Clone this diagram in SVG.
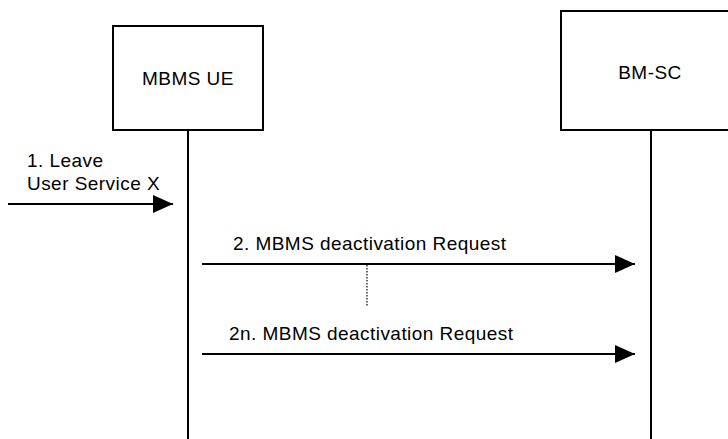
<svg xmlns="http://www.w3.org/2000/svg" width="728" height="439" viewBox="0 0 728 439">
<style>
.box{fill:#fff;stroke:#000;stroke-width:2}
.life{stroke:#000;stroke-width:2;fill:none}
.msg{stroke:#000;stroke-width:2;fill:none;marker-end:url(#ah)}
.dot{stroke:#000;stroke-width:1.2;stroke-dasharray:1.5 1.5;fill:none}
text{font-family:"Liberation Sans",Arial,sans-serif;font-size:19px;letter-spacing:0.45px;fill:#000}
</style>
<defs>
<marker id="ah" markerUnits="userSpaceOnUse" markerWidth="20" markerHeight="18" refX="20" refY="9" orient="auto">
<polygon points="0,0 20,9 0,18" fill="#000"/>
</marker>
</defs>
<rect width="728" height="439" fill="#fff"/>
<g id="connectors">
<line class="life" x1="188" y1="130" x2="188" y2="439"/>
<line class="life" x1="651" y1="130" x2="651" y2="439"/>
<line class="msg" x1="8" y1="204" x2="173" y2="204"/>
<line class="msg" x1="202" y1="264" x2="635" y2="264"/>
<line class="dot" x1="367" y1="265" x2="367" y2="306"/>
<line class="msg" x1="202" y1="354" x2="635" y2="354"/>
</g>
<g id="node-ue">
<rect class="box" x="113" y="26" width="150" height="104"/>
<text x="188" y="85" text-anchor="middle">MBMS UE</text>
</g>
<g id="node-bmsc">
<rect class="box" x="561" y="11" width="180" height="119"/>
<text x="650" y="79" text-anchor="middle">BM-SC</text>
</g>
<g id="labels">
<text x="27" y="167">1. Leave</text>
<text x="27" y="190">User Service X</text>
<text x="233" y="250">2. MBMS deactivation Request</text>
<text x="229" y="340">2n. MBMS deactivation Request</text>
</g>
</svg>
